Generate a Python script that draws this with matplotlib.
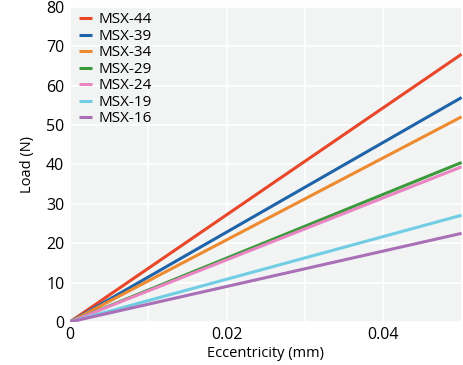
import matplotlib
matplotlib.use("Agg")
import matplotlib.pyplot as plt

# Data: each specimen is a straight line from the origin
labels = ['MSX-44', 'MSX-39', 'MSX-34', 'MSX-29', 'MSX-24', 'MSX-19', 'MSX-16']
ecc = [0.0, 0.05]
load_end = [68.0, 57.0, 52.1, 40.5, 39.4, 27.1, 22.5]
colors = ['#e8472a', '#1f63a8', '#ee8a2f', '#3b9a3a', '#e985c2', '#71cde3', '#a96fb7']

plt.rcParams['font.family'] = ['Open Sans', 'DejaVu Sans']

fig = plt.figure(figsize=(4.63, 3.65), dpi=100)
ax = fig.add_axes([0.151, 0.118, 0.846, 0.863])
ax.set_facecolor('#f2f4f4')

for lab, end, c in zip(labels, load_end, colors):
    ax.plot(ecc, [0.0, end], color=c, lw=2.2, label=lab, solid_capstyle='butt')

ax.set_xlim(0, 0.05)
ax.set_ylim(0, 80)
ax.set_xticks([0, 0.01, 0.02, 0.03, 0.04, 0.05])
ax.set_xticklabels(['0', '', '0.02', '', '0.04', ''])
ax.set_yticks(range(0, 81, 10))
ax.grid(True, color='white', lw=1.2)
ax.set_axisbelow(True)
for s in ax.spines.values():
    s.set_visible(False)
ax.tick_params(length=0, labelsize=11.5, pad=4)

ax.set_xlabel('Eccentricity (mm)', fontsize=10.5, labelpad=2)
ax.set_ylabel('Load (N)', fontsize=10.5, labelpad=8)

ax.legend(loc='upper left', frameon=False, fontsize=11, handlelength=0.85,
          handletextpad=0.45, labelspacing=0.1, borderaxespad=0.2,
          bbox_to_anchor=(0.0, 1.012))

fig.savefig('out.png', dpi=100)
